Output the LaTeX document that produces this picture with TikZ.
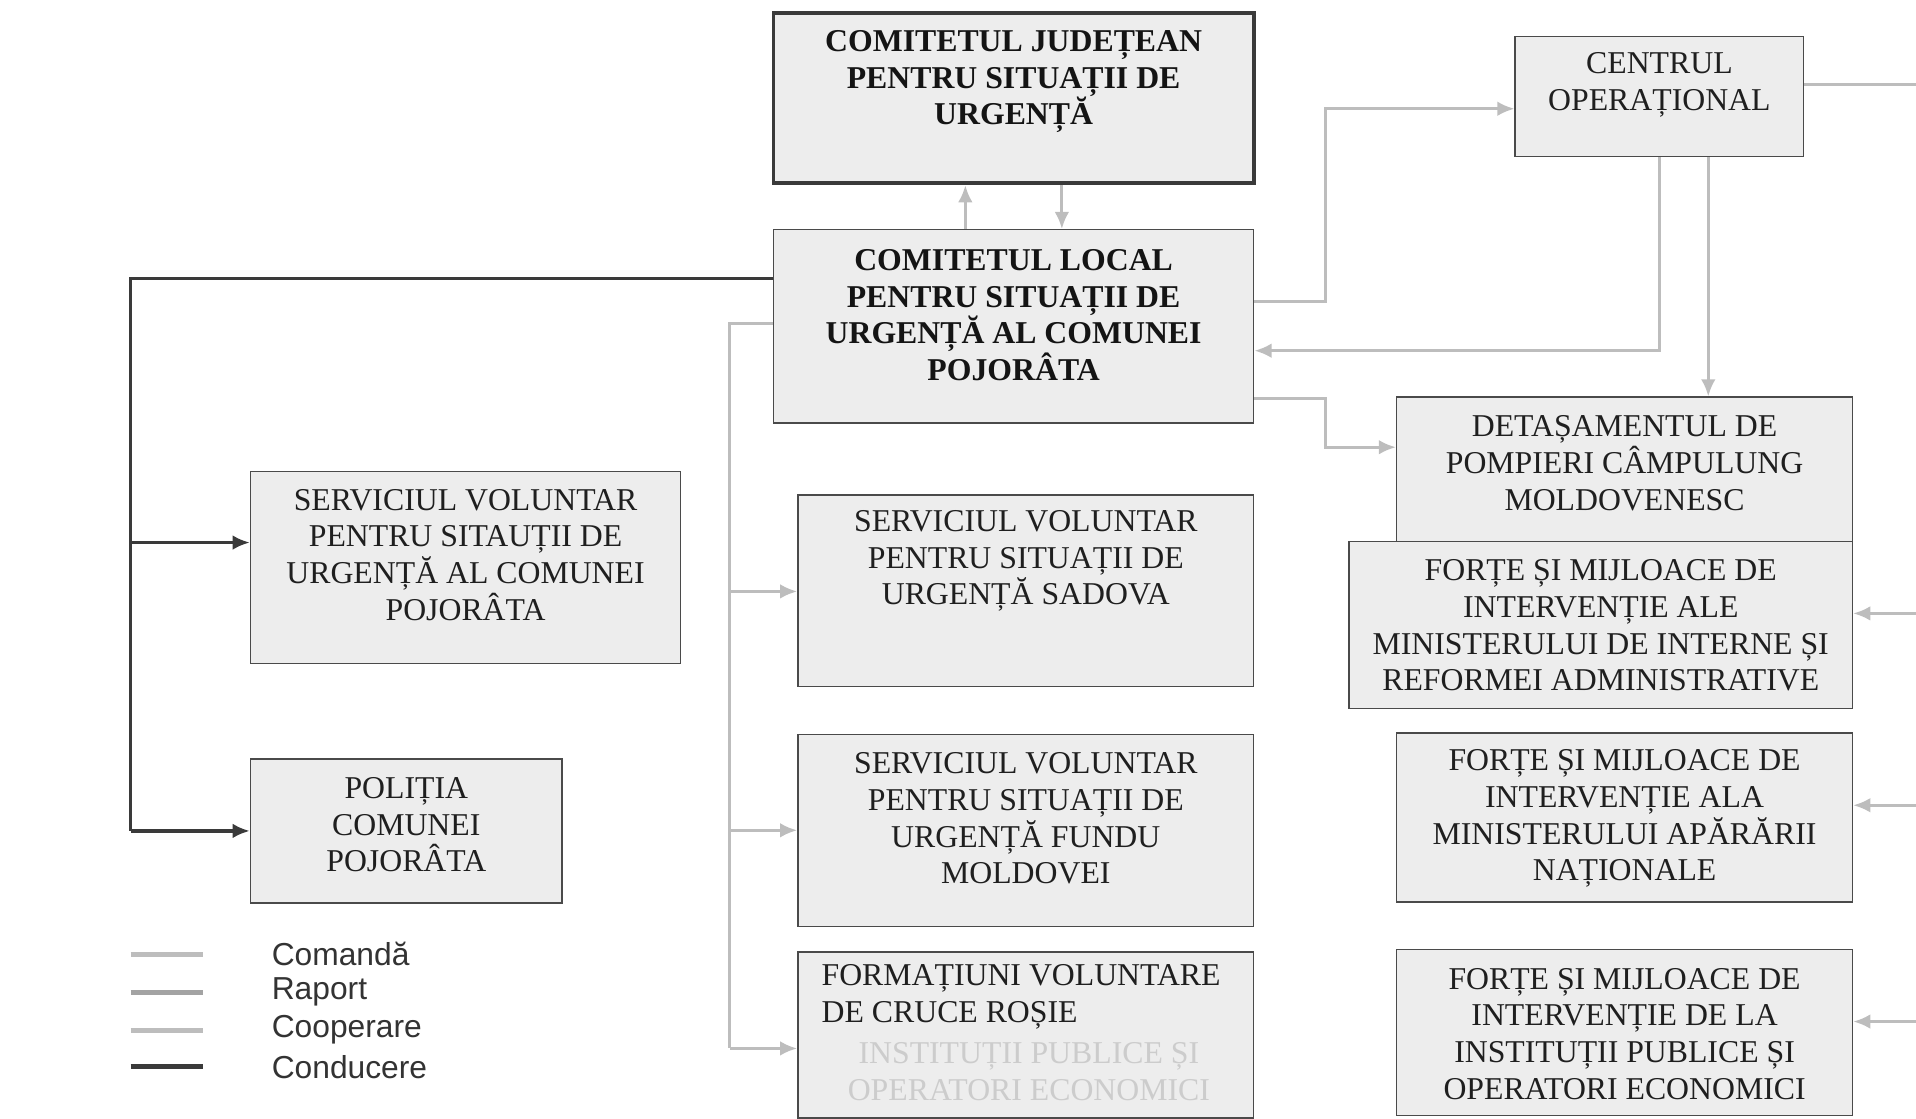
\documentclass[tikz,border=0pt]{standalone}
\usepackage{fontspec}
\setmainfont{Liberation Serif}
\newfontfamily\legendfont{Liberation Sans}
\usetikzlibrary{arrows.meta}
\definecolor{boxfill}{HTML}{EDEDED}
\definecolor{boxline}{HTML}{4A4A4A}
\definecolor{cmdgray}{HTML}{BDBDBD}
\definecolor{repgray}{HTML}{A3A3A3}
\definecolor{leadgray}{HTML}{3A3A3A}

\begin{document}
\begin{tikzpicture}[x=0.5pt, y=-0.5pt, >={Latex[length=7pt, width=6pt]}, font=\fontsize{13}{15}\selectfont]
    \tikzstyle{block} = [draw=boxline, fill=boxfill, line width=0.6pt, rectangle, inner sep=0pt];
    \tikzstyle{tblock} = [block, draw=leadgray, line width=1.6pt];
    \tikzstyle{txt} = [align=center, inner sep=0pt, text=black!88];
    \tikzstyle{btxt} = [txt, text=black!92, font=\fontsize{13}{15}\selectfont\bfseries];
    \tikzstyle{cmd} = [->, draw=cmdgray, line width=1.2pt];
    \tikzstyle{lead} = [->, draw=leadgray, line width=1.3pt];
    \tikzstyle{legend} = [inner sep=0pt, text=black!80, font=\fontsize{13}{15}\legendfont];
    \useasboundingbox (0,0) rectangle (1568,915);

    % boxes
    \node [tblock, minimum width=196.5pt, minimum height=69.5pt] (judet) at (829.5,80.5) {};
    \node [block, minimum width=196.5pt, minimum height=79pt] (local) at (829.5,267) {};
    \node [block, minimum width=118pt, minimum height=49pt] (centrul) at (1358,79) {};
    \node [block, minimum width=186.5pt, minimum height=59pt] (detas) at (1329.5,384) {};
    \node [block, minimum width=206pt, minimum height=68.5pt] (mai) at (1310,511.5) {};
    \node [block, minimum width=186.5pt, minimum height=69pt] (mapn) at (1329.5,669) {};
    \node [block, minimum width=186.5pt, minimum height=68pt] (inst) at (1329.5,845) {};
    \node [block, minimum width=176pt, minimum height=78.5pt] (serv) at (381,464.5) {};
    \node [block, minimum width=127.5pt, minimum height=59pt] (politia) at (332.5,680) {};
    \node [block, minimum width=186.5pt, minimum height=78.5pt] (sadova) at (839.5,483.5) {};
    \node [block, minimum width=186.5pt, minimum height=78.5pt] (fundu) at (839.5,679.5) {};
    \node [block, minimum width=186.5pt, minimum height=68pt] (formatiuni) at (839.5,847) {};

    % texts
    \node [btxt] (judet-t) at (829.5,67) {COMITETUL JUDEȚEAN\\PENTRU SITUAȚII DE\\URGENȚĂ};
    \node [btxt] (local-t) at (829.5,258) {COMITETUL LOCAL\\PENTRU SITUAȚII DE\\URGENȚĂ AL COMUNEI\\POJORÂTA};
    \node [txt] (centrul-t) at (1358,69.5) {CENTRUL\\OPERAȚIONAL};
    \node [txt] (detas-t) at (1329.5,379) {DETAȘAMENTUL DE\\POMPIERI CÂMPULUNG\\MOLDOVENESC};
    \node [txt] (mai-t) at (1310,512) {FORȚE ȘI MIJLOACE DE\\INTERVENȚIE ALE\\MINISTERULUI DE INTERNE ȘI\\REFORMEI ADMINISTRATIVE};
    \node [txt] (mapn-t) at (1329.5,670) {FORȚE ȘI MIJLOACE DE\\INTERVENȚIE ALA\\MINISTERULUI APĂRĂRII\\NAȚIONALE};
    \node [txt] (inst-t) at (1329.5,846) {FORȚE ȘI MIJLOACE DE\\INTERVENȚIE DE LA\\INSTITUȚII PUBLICE ȘI\\OPERATORI ECONOMICI};
    \node [txt] (serv-t) at (381,454) {SERVICIUL VOLUNTAR\\PENTRU SITAUȚII DE\\URGENȚĂ AL COMUNEI\\POJORÂTA};
    \node [txt] (politia-t) at (332.5,675) {POLIȚIA\\COMUNEI\\POJORÂTA};
    \node [txt] (sadova-t) at (839.5,459) {SERVICIUL VOLUNTAR\\PENTRU SITUAȚII DE\\URGENȚĂ SADOVA};
    \node [txt] (fundu-t) at (839.5,670) {SERVICIUL VOLUNTAR\\PENTRU SITUAȚII DE\\URGENȚĂ FUNDU\\MOLDOVEI};
    \node [txt, align=left, anchor=west] (formatiuni-t) at (672,816) {FORMAȚIUNI VOLUNTARE\\DE CRUCE ROȘIE};
    \node [txt, text=black!20] (formatiuni-g) at (842,877) {INSTITUȚII PUBLICE ȘI\\OPERATORI ECONOMICI};

    % helper points
    \coordinate (jup) at (790,0);
    \coordinate (jdn) at (869,0);
    \coordinate (dbus) at (107,228);
    \coordinate (gbus) at (597,265);
    \coordinate (k1) at (1085,89);
    \coordinate (k2) at (1085,366);
    \coordinate (cdn) at (1398,0);
    \coordinate (rim) at (1568,69);

    % connectors
    \draw [cmd] (local.north -| jup) -- (judet.south -| jup);
    \draw [cmd] (judet.south -| jdn) -- (local.north -| jdn);
    \draw [lead,-] (local.west |- dbus) -- (dbus) -- (dbus |- politia);
    \draw [lead] (dbus |- 0,444) -- (serv.west |- 0,444);
    \draw [lead] (dbus |- politia) -- (politia);
    \draw [cmd,-] (local.west |- gbus) -- (gbus) -- (gbus |- 0,858);
    \draw [cmd] (gbus |- 0,484) -- (sadova.west |- 0,484);
    \draw [cmd] (gbus |- fundu) -- (fundu);
    \draw [cmd] (gbus |- 0,858) -- (formatiuni.west |- 0,858);
    \draw [cmd] (local.east |- 0,247) -| (k1) -- (centrul.west |- k1);
    \draw [cmd] (centrul.south) |- (local.east |- 0,287);
    \draw [cmd] (centrul.south -| cdn) -- (detas.north -| cdn);
    \draw [cmd] (local.east |- 0,326) -| (k2) -- (detas.west |- k2);
    \draw [cmd,-] (centrul.east |- rim) -- (rim);
    \foreach \b/\y in {mai/502, mapn/659, inst/836}
        \draw [cmd] (1568,\y) -- (\b.east |- 0,\y);

    % legend
    \foreach \i/\t/\c/\y in {1/Comandă/cmdgray/781, 2/Raport/repgray/812, 3/Cooperare/cmdgray/843, 4/Conducere/leadgray/873} {
        \node [legend, anchor=west] (leg\i) at (222,\y) {\t};
        \draw [draw=\c, line width=2pt] (leg\i.west) ++(-115,0) -- ++(59,0);
    }
\end{tikzpicture}
\end{document}
